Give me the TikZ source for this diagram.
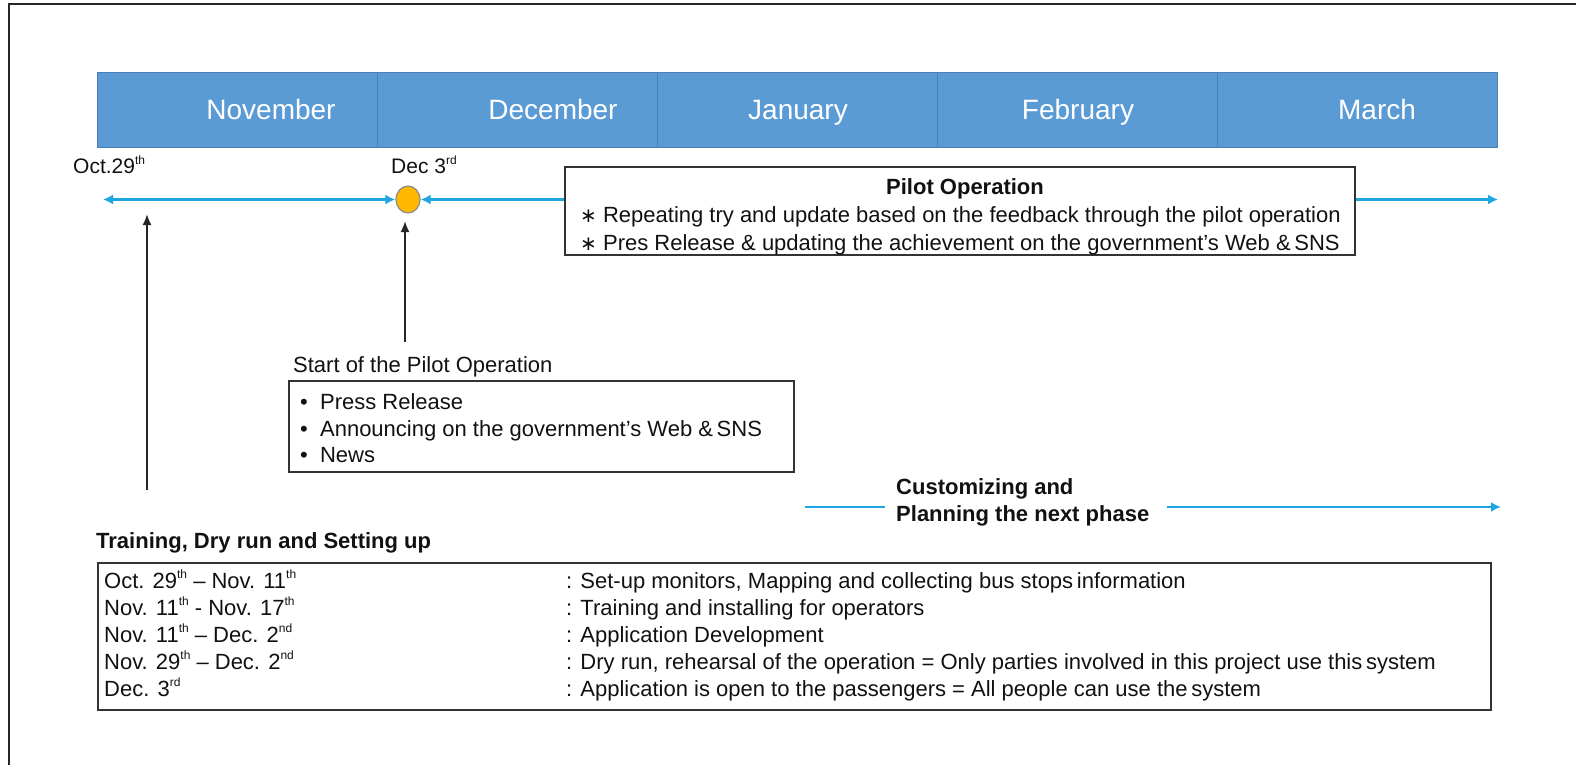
\documentclass[tikz,border=0pt]{standalone}
\usepackage{fontspec}
\setmainfont{Liberation Sans}
\newfontfamily\djv{DejaVu Sans}
\usetikzlibrary{arrows.meta,shapes.geometric}
\definecolor{monthblue}{HTML}{5B9BD5}
\definecolor{monthedge}{HTML}{4A7FB5}
\definecolor{lineblue}{HTML}{1FA5E0}
\definecolor{dotorange}{HTML}{FFB800}
\definecolor{txt}{HTML}{111111}
\newcommand{\fs}[1]{\fontsize{#1}{#1}\selectfont}
\newcommand{\sps}[1]{\raisebox{0.42em}{\fontsize{12}{12}\selectfont #1}}
\newcommand{\astk}{{\djv\fontsize{20}{20}\selectfont ∗}}
\begin{document}
\begin{tikzpicture}[x=1pt,y=-1pt,
  monthcell/.style={draw=monthedge,line width=0.6pt,fill=monthblue,minimum width=280pt,minimum height=75pt,inner sep=0pt},
  monthtxt/.style={text=white,font=\fs{28},inner sep=0pt,anchor=base},
  lbl/.style={anchor=base west,inner sep=0pt,text=txt,font=\fs{21}},
  body/.style={anchor=base west,inner sep=0pt,text=txt,font=\fs{22}},
  bodyb/.style={anchor=base west,inner sep=0pt,text=txt,font=\fs{22}\bfseries},
  rowtxt/.style={anchor=base west,inner sep=0pt,text=txt,font=\fs{22}},
  boxed/.style={draw=black!80,line width=1.3pt,inner sep=0pt},
  blueline/.style={draw=lineblue,line width=2.6pt},
  bluetip/.style={-{Latex[length=10pt,width=10pt]}},
  blacktip/.style={-{Latex[length=11pt,width=9pt]}}
]
\useasboundingbox (0,0) rectangle (1576,765);
% frame
\draw[line width=2pt,black!85] (9,765) -- (9,4) -- (1576,4);

% month bar
\node[monthcell] (m1) at (237,109.5) {};
\node[monthcell] (m2) at (517,109.5) {};
\node[monthcell] (m3) at (797,109.5) {};
\node[monthcell] (m4) at (1077,109.5) {};
\node[monthcell] (m5) at (1357,109.5) {};
\node[monthtxt] (t1) at (271,120) {November};
\node[monthtxt] (t2) at (553,120) {December};
\node[monthtxt] (t3) at (798,120) {January};
\node[monthtxt] (t4) at (1078,120) {February};
\node[monthtxt] (t5) at (1377,120) {March};

% date labels
\node[lbl] (oct) at (73,173) {Oct.29\sps{th}};
\node[lbl] (dec) at (391,173) {Dec 3\sps{rd}};

% timeline
\coordinate (tlL) at (103,199.5);
\coordinate (tlR) at (1498,199.5);
\node[ellipse,draw=black!45,line width=1.2pt,fill=dotorange,minimum width=24pt,minimum height=27pt,inner sep=0pt] (dot) at (408,199.5) {};

% pilot box
\node[boxed,minimum width=790pt,minimum height=88pt] (pilot) at (960,211) {};
\node[bodyb,anchor=base] (ptitle) at (965,194) {Pilot Operation};
\node[body] (p1) at (580,222) {\astk\ Repeating try and update based on the feedback through the pilot operation};
\node[body] (p2) at (580,250) {\astk\ Pres Release \& updating the achievement on the government’s Web \&\,SNS};

\draw[blueline,{Latex[length=10pt,width=10pt]}-{Latex[length=10pt,width=10pt]}] (tlL) -- (dot.west);
\draw[blueline,bluetip] (pilot.west |- dot.east) -- (dot.east);
\draw[blueline,bluetip] (pilot.east |- dot.east) -- (tlR);

% black arrows
\coordinate (b1) at (147,490);
\coordinate (b1t) at (147,214);
\coordinate (b2) at (405,342);
\coordinate (b2t) at (405,221);
\draw[line width=1.8pt,black!85,blacktip] (b1) -- (b1t);
\draw[line width=1.8pt,black!85,blacktip] (b2) -- (b2t);

% start of pilot operation
\node[body] (start) at (293,372) {Start of the Pilot Operation};
\node[boxed,minimum width=505pt,minimum height=91pt] (sbox) at (541.5,426.5) {};
\node[body] (s1) at (300,409) {•\ \ Press Release};
\node[body] (s2) at (300,436) {•\ \ Announcing on the government’s Web \&\,SNS};
\node[body] (s3) at (300,462) {•\ \ News};

% customizing
\node[bodyb] (c1) at (896,494) {Customizing and};
\node[bodyb] (c2) at (896,521) {Planning the next phase};
\coordinate (cl1) at (805,507);
\coordinate (cl2) at (885,507);
\coordinate (cr1) at (1167,507);
\coordinate (cr2) at (1501,507);
\draw[blueline] (cl1) -- (cl2);
\draw[blueline,bluetip] (cr1) -- (cr2);

% training
\node[bodyb] (train) at (96,548) {Training, Dry run and Setting up};
\node[boxed,minimum width=1393pt,minimum height=147pt] (tbl) at (794.5,636.5) {};
\node[rowtxt] (r1a) at (104,588) {Oct. 29\sps{th} – Nov. 11\sps{th}};
\node[rowtxt] (r2a) at (104,615) {Nov. 11\sps{th} - Nov. 17\sps{th}};
\node[rowtxt] (r3a) at (104,642) {Nov. 11\sps{th} – Dec. 2\sps{nd}};
\node[rowtxt] (r4a) at (104,669) {Nov. 29\sps{th} – Dec. 2\sps{nd}};
\node[rowtxt] (r5a) at (104,696) {Dec. 3\sps{rd}};
\node[rowtxt] (r1b) at (566,588) {: Set-up monitors, Mapping and collecting bus stops\,information};
\node[rowtxt] (r2b) at (566,615) {: Training and installing for operators};
\node[rowtxt] (r3b) at (566,642) {: Application Development};
\node[rowtxt] (r4b) at (566,669) {: Dry run, rehearsal of the operation = Only parties involved in this project use this\,system};
\node[rowtxt] (r5b) at (566,696) {: Application is open to the passengers = All people can use the\,system};
\end{tikzpicture}
\end{document}
